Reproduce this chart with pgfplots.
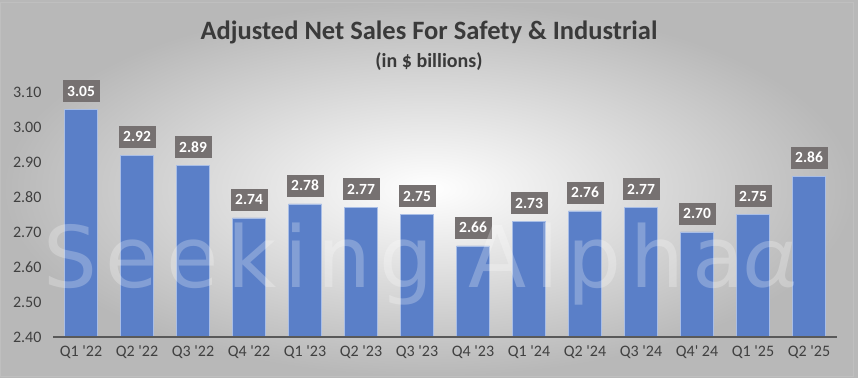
\documentclass[border=0pt]{standalone}
\usepackage{pgfplots}
\pgfplotsset{compat=1.18}
\usepackage{fontspec}
\setmainfont{Carlito}
\newfontfamily\wmfont[LetterSpace=10]{DejaVu Sans}
\definecolor{barblue}{HTML}{5A7FC8}
\definecolor{baredge}{HTML}{A9BEE6}
\definecolor{labelgray}{HTML}{767171}
\definecolor{tickgray}{HTML}{404040}
\definecolor{titlegray}{HTML}{3A3A3A}
\begin{document}
\begin{tikzpicture}[x=1pt,y=1pt]
\shade[inner color=white, outer color=black!28] (0,0) rectangle (858,377);
\draw[black!25, line width=0.8pt] (0.4,0.4) rectangle (853,375);
\node[font=\bfseries\fontsize{26.5}{26.5}\selectfont, text=titlegray] at (429,345) {Adjusted Net Sales For Safety \& Industrial};
\node[font=\bfseries\fontsize{20}{20}\selectfont, text=titlegray] at (429,315) {(in \$ billions)};
\begin{axis}[
  at={(53pt,40pt)}, anchor=south west,
  scale only axis, width=784pt, height=245pt,
  xmin=-0.5, xmax=13.5, ymin=2.4, ymax=3.1,
  clip=false,
  axis line style={draw=none},
  major tick length=0pt,
  ytick={2.4,2.5,...,3.1},
  yticklabel style={font=\fontsize{16}{16}\selectfont, text=tickgray, xshift=-8pt,
    /pgf/number format/.cd, fixed, fixed zerofill, precision=2, assume math mode=true},
  xtick={0,...,13},
  xticklabels={Q1 \textquotesingle22, Q2 \textquotesingle22, Q3 \textquotesingle22, Q4 \textquotesingle22,
    Q1 \textquotesingle23, Q2 \textquotesingle23, Q3 \textquotesingle23, Q4 \textquotesingle23,
    Q1 \textquotesingle24, Q2 \textquotesingle24, Q3 \textquotesingle24, Q4\textquotesingle\ 24,
    Q1 \textquotesingle25, Q2 \textquotesingle25},
  xticklabel style={font=\fontsize{16}{16}\selectfont, text=tickgray, yshift=-5pt},
  ymajorgrids=false,
  nodes near coords={\pgfmathprintnumber[fixed,fixed zerofill,precision=2,assume math mode=true]{\pgfplotspointmeta}},
  every node near coord/.append style={font=\bfseries\fontsize{15.5}{15.5}\selectfont, text=white,
    fill=labelgray, minimum width=37pt, minimum height=22pt, inner sep=0pt, anchor=south, yshift=7pt},
  after end axis/.code={\draw[line width=1.5pt, color=black!65] (rel axis cs:0,0) -- (rel axis cs:1,0);},
]
\addplot[ybar, bar width=33pt, fill=barblue, draw=baredge, line width=0.6pt] coordinates {
(0,3.05) (1,2.92) (2,2.89) (3,2.74) (4,2.78) (5,2.77) (6,2.75)
(7,2.66) (8,2.73) (9,2.76) (10,2.77) (11,2.70) (12,2.75) (13,2.86)};
\end{axis}
\node[font=\wmfont\fontsize{85}{85}\selectfont, text=white, opacity=0.25, anchor=base west, inner sep=0pt] at (43,89) {Seeking Alpha};
\node[font=\fontsize{95}{95}\selectfont\itshape, text=white, opacity=0.25, anchor=base west, inner sep=0pt] at (742,89) {α};
\pgfresetboundingbox
\path (0,0) rectangle (858,377);
\end{tikzpicture}
\end{document}
